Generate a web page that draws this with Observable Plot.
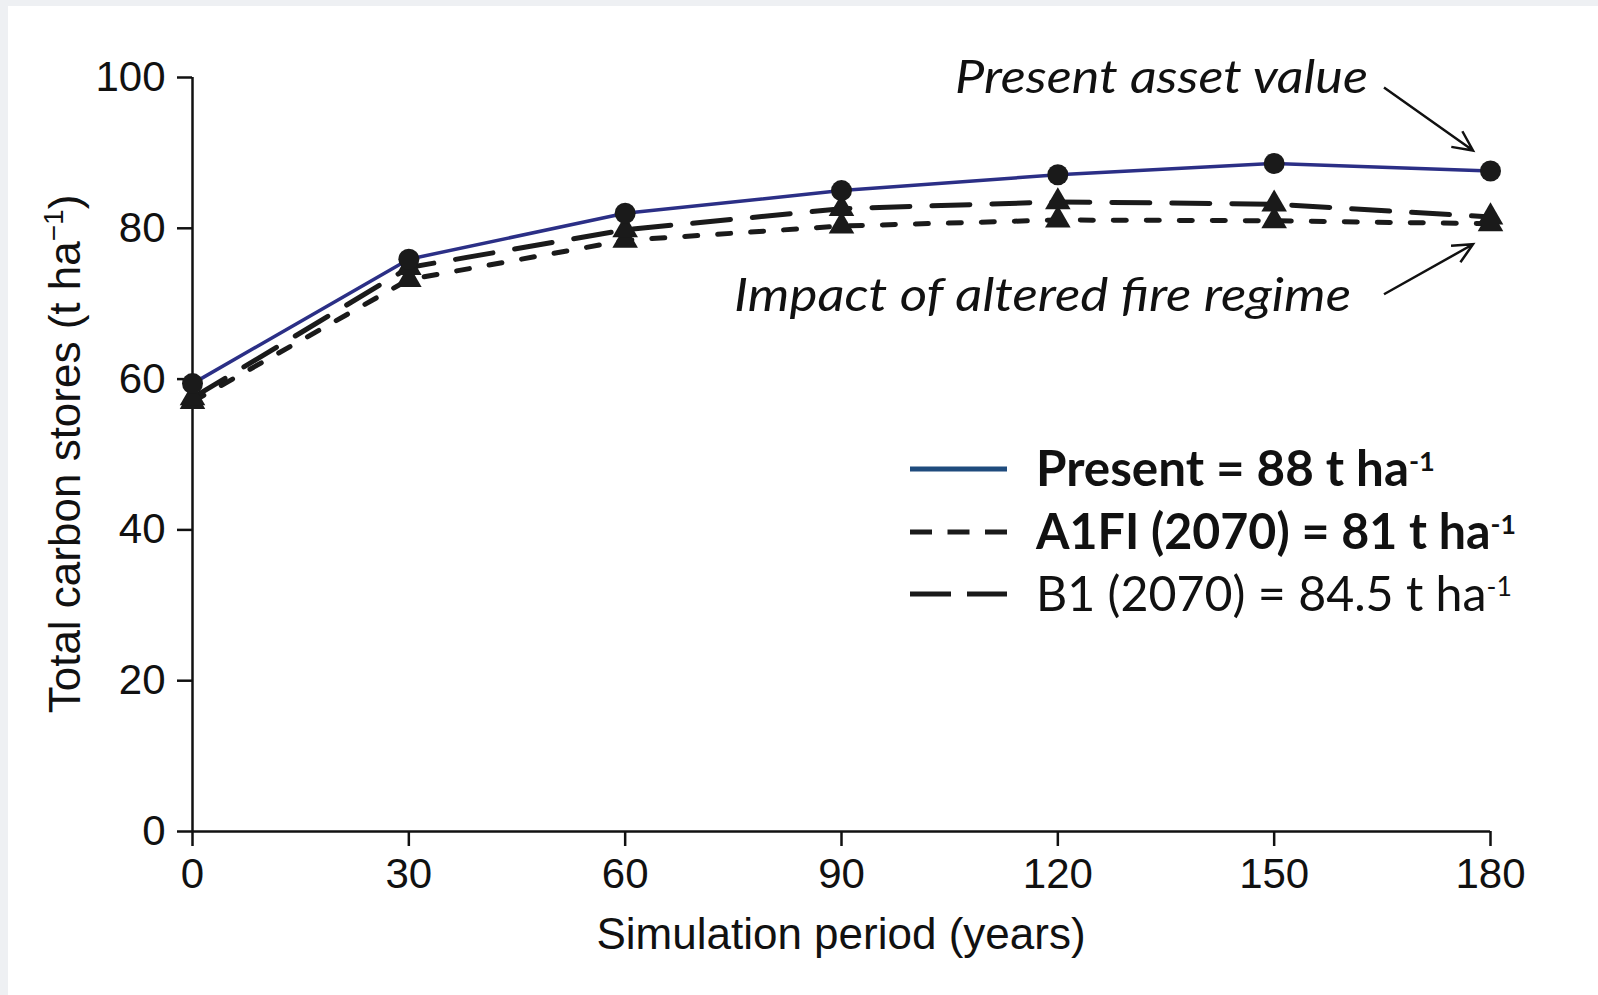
<!DOCTYPE html>
<html><head><meta charset="utf-8">
<script src="https://cdn.jsdelivr.net/npm/d3@7"></script>
<script src="https://cdn.jsdelivr.net/npm/@observablehq/plot@0.6"></script>
<style>
html,body{margin:0;padding:0;background:#eef0f3;}
#wrap{position:relative;width:1598px;height:995px;overflow:hidden;}
#panel{position:absolute;left:8px;top:6px;right:0;bottom:0;background:#fff;}
#chart{position:absolute;left:0;top:0;}
#chart svg [aria-label^="x-axis"] line, #chart svg [aria-label^="x-axis"] path,
#chart svg [aria-label^="y-axis"] line, #chart svg [aria-label^="y-axis"] path {stroke-width:2.5px; stroke:#111;}
</style></head><body>
<div id="wrap"><div id="panel"></div><div id="chart"></div></div>
<script>
// ---- data ----
const years = [0, 30, 60, 90, 120, 150, 180];
const present = [59.4, 75.9, 82.0, 85.0, 87.1, 88.6, 87.6];
const b1 = [57.5, 74.8, 79.8, 82.6, 83.5, 83.2, 81.5];
const a1fi = [57.0, 73.2, 78.4, 80.3, 81.1, 81.0, 80.6];
const xTicks = [0, 30, 60, 90, 120, 150, 180];
const yTicks = [0, 20, 40, 60, 80, 100];
const xTitle = "Simulation period (years)";
const yTitleMain = "Total carbon stores (t ha";
const yTitleSup = "\u22121";
const legendLabels = ["Present = 88 t ha", "A1FI (2070) = 81 t ha", "B1 (2070) = 84.5 t ha"];
const legendSup = "-1";
const annotPresent = "Present asset value";
const annotFire = "Impact of altered fire regime";

const rows = (vals, name) => years.map((x, i) => ({x, y: vals[i], series: name}));
const P = rows(present, "Present"), B = rows(b1, "B1"), A = rows(a1fi, "A1FI");

const ink = "#1a1a1a";
const chart = Plot.plot({
  width: 1598, height: 995,
  marginLeft: 192, marginRight: 108, marginTop: 77, marginBottom: 164,
  style: {background: "transparent", fontFamily: "'Liberation Sans', Arial, sans-serif", fontSize: "42px", color: "#111"},
  x: {domain: [0, 180], ticks: xTicks, tickSize: 15, tickPadding: 12, label: null},
  y: {domain: [0, 100], ticks: yTicks, tickSize: 15, tickPadding: 12, label: null},
  marks: [
    Plot.ruleY([0], {stroke: "#111", strokeWidth: 2.5}),
    Plot.ruleX([0], {stroke: "#111", strokeWidth: 2.5}),
    Plot.line(A, {x: "x", y: "y", stroke: ink, strokeWidth: 5, strokeDasharray: "13,20"}),
    Plot.line(B, {x: "x", y: "y", stroke: ink, strokeWidth: 5, strokeDasharray: "38,22"}),
    Plot.dot(A, {x: "x", y: "y", symbol: "triangle", r: 9.5, fill: ink}),
    Plot.dot(B, {x: "x", y: "y", symbol: "triangle", r: 9.5, fill: ink}),
    Plot.line(P, {x: "x", y: "y", stroke: "#2b2f86", strokeWidth: 3.5}),
    Plot.dot(P, {x: "x", y: "y", r: 10.5, fill: ink})
  ]
});
document.getElementById("chart").appendChild(chart);

// ---- extra text / legend / annotations ----
const svg = d3.select(chart);
const sx = chart.scale("x"), sy = chart.scale("y");
const X = v => sx.apply(v), Y = v => sy.apply(v);
const x0 = X(0), x1 = X(180), yTop = Y(100), yBot = Y(0);

// axis titles
const yt = svg.append("text")
  .attr("transform", `translate(80,${(yTop + yBot) / 2}) rotate(-90)`)
  .attr("text-anchor", "middle")
  .attr("font-family", "'Liberation Sans', Arial, sans-serif")
  .attr("font-size", 44).attr("fill", "#111");
yt.append("tspan").text(yTitleMain);
yt.append("tspan").attr("font-size", 28).attr("dy", -17).text(yTitleSup);
yt.append("tspan").attr("dy", 17).text(")");

svg.append("text")
  .attr("x", (x0 + x1) / 2).attr("y", 949)
  .attr("text-anchor", "middle")
  .attr("font-family", "'Liberation Sans', Arial, sans-serif")
  .attr("font-size", 44).attr("fill", "#111")
  .text(xTitle);

// legend
const legendX = 910, legendW = 97, textX = 1036;
const legendRows = [
  {label: legendLabels[0], y: 469, stroke: "#1f4b7d", dash: null, weight: 700, width: 399},
  {label: legendLabels[1], y: 532, stroke: ink, dash: "22,15.5", weight: 700, width: 480},
  {label: legendLabels[2], y: 594, stroke: ink, dash: "41,16", weight: 400, width: 476}
];
legendRows.forEach(r => {
  svg.append("line")
    .attr("x1", legendX).attr("x2", legendX + legendW)
    .attr("y1", r.y).attr("y2", r.y)
    .attr("stroke", r.stroke).attr("stroke-width", 5)
    .attr("stroke-dasharray", r.dash);
  const g = svg.append("g");
  const t = g.append("text")
    .attr("x", 0).attr("y", 0)
    .attr("text-anchor", "start")
    .attr("font-family", "Lato, 'Open Sans', sans-serif")
    .attr("font-weight", r.weight)
    .attr("font-size", 49).attr("fill", "#111");
  t.append("tspan").text(r.label);
  t.append("tspan").attr("font-size", 27).attr("dy", -15).text(legendSup);
  const w = t.node().getComputedTextLength() || r.width;
  g.attr("transform", `translate(${textX},${r.y + 17}) scale(${r.width / w},1)`);
});

// annotations + arrows
const pEnd = [X(years[6]), Y(present[6])];
const fEnd = [X(years[6]), Y(a1fi[6])];
svg.append("text")
  .attr("x", pEnd[0] - 122).attr("y", pEnd[1] - 77)
  .attr("text-anchor", "end")
  .attr("font-family", "Lato, 'Open Sans', sans-serif")
  .attr("font-style", "italic").attr("font-size", 47).attr("fill", "#111")
  .attr("textLength", 413).attr("lengthAdjust", "spacingAndGlyphs")
  .text(annotPresent);
svg.append("text")
  .attr("x", fEnd[0] - 139).attr("y", fEnd[1] + 88)
  .attr("text-anchor", "end")
  .attr("font-family", "Lato, 'Open Sans', sans-serif")
  .attr("font-style", "italic").attr("font-size", 47).attr("fill", "#111")
  .attr("textLength", 617).attr("lengthAdjust", "spacingAndGlyphs")
  .text(annotFire);

function arrow(sx0, sy0, ex, ey) {
  const ang = Math.atan2(ey - sy0, ex - sx0), L = 22, spread = 0.45;
  const h1 = [ex - L * Math.cos(ang - spread), ey - L * Math.sin(ang - spread)];
  const h2 = [ex - L * Math.cos(ang + spread), ey - L * Math.sin(ang + spread)];
  svg.append("path")
    .attr("d", `M${sx0},${sy0}L${ex},${ey}M${h1[0]},${h1[1]}L${ex},${ey}L${h2[0]},${h2[1]}`)
    .attr("fill", "none").attr("stroke", "#111").attr("stroke-width", 2.5);
}
arrow(pEnd[0] - 106, pEnd[1] - 83, pEnd[0] - 17, pEnd[1] - 20);
arrow(fEnd[0] - 106, fEnd[1] + 71, fEnd[0] - 17, fEnd[1] + 21);
</script>
</body></html>
